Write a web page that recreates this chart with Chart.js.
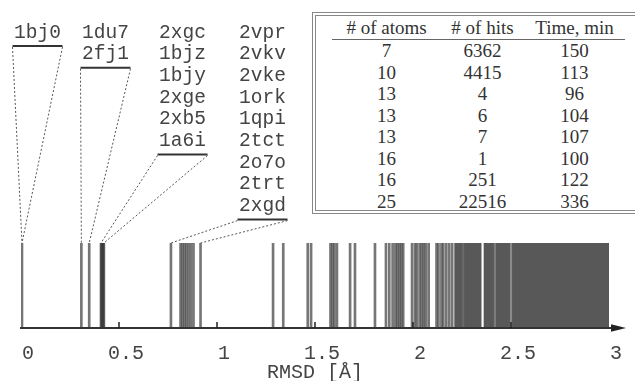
<!DOCTYPE html>
<html>
<head>
<meta charset="utf-8">
<script src="https://cdn.jsdelivr.net/npm/chart.js@4.4.6/dist/chart.umd.min.js"></script>
<style>
  body { margin: 0; background: #fff; }
  #wrap { position: relative; width: 635px; height: 381px; }
  #tbl {
    position: absolute; left: 312px; top: 12px; width: 340px; height: 194px;
    border-top: 4px double #888; border-left: 4px double #888; border-bottom: 4px double #888;
    background: #fff;
  }
  #tbl table {
    margin-left: 16px; width: 293px; border-collapse: collapse;
    font: 19px "Liberation Serif", serif; color: #333; table-layout: fixed;
  }
  #tbl td, #tbl th { text-align: center; padding: 0; font-weight: normal; height: 21.5px; line-height: 21.5px; }
  #tbl th { border-bottom: 1px solid #666; height: 23px; line-height: 23px; }
</style>
</head>
<body>
<div id="wrap">
  <canvas id="chart"></canvas>
  <div id="tbl"><table id="hitsTable">
    <colgroup><col style="width:109px"><col style="width:83px"><col style="width:101px"></colgroup>
    <thead><tr></tr></thead>
    <tbody></tbody>
  </table></div>
</div>
<script>
/* labelled structures, grouped as in the figure */
const groupLabels = [
  ["1bj0"],
  ["1du7", "2fj1"],
  ["2xgc", "1bjz", "1bjy", "2xge", "2xb5", "1a6i"],
  ["2vpr", "2vkv", "2vke", "1ork", "1qpi", "2tct", "2o7o", "2trt", "2xgd"]
];
const groupRmsd = [
  [0.005],
  [0.308, 0.348],
  [0.408, 0.411, 0.414, 0.417, 0.420, 0.423],
  [0.765, 0.814, 0.824, 0.834, 0.844, 0.855, 0.867, 0.880, 0.916]
];
/* other hits, unlabelled */
const otherRmsd = [1.286, 1.338, 1.463, 1.480, 1.579, 1.589, 1.599, 1.612, 1.679, 1.704,
  1.806, 1.862, 1.879, 1.896, 1.910, 1.920, 1.930, 1.940, 1.950, 1.995, 2.010, 2.020,
  2.034, 2.045, 2.055, 2.066, 2.080, 2.120, 2.130, 2.145, 2.155, 2.170, 2.185, 2.200];
/* dense band of hits and the few holes in it */
const denseRange = [2.21, 3.0];
const gapRmsd = [2.256, 2.355, 2.418, 2.500];
const gapShade = ["#6a6a6a", "#ffffff", "#7c7c7c", "#8a8a8a"];

/* table */
const tableHeader = ["# of atoms", "# of hits", "Time, min"];
const tableAtoms = [7, 10, 13, 13, 13, 16, 16, 25];
const tableHits = [6362, 4415, 4, 6, 7, 1, 251, 22516];
const tableTime = [150, 113, 96, 104, 107, 100, 122, 336];

const headRow = document.querySelector('#hitsTable thead tr');
tableHeader.forEach(h => {
  const th = document.createElement('th');
  th.textContent = h;
  headRow.appendChild(th);
});
const tbody = document.querySelector('#hitsTable tbody');
tableAtoms.forEach((a, i) => {
  const tr = document.createElement('tr');
  [a, tableHits[i], tableTime[i]].forEach(v => {
    const td = document.createElement('td');
    td.textContent = v;
    tr.appendChild(td);
  });
  tbody.appendChild(tr);
});

const hitRmsd = groupRmsd.flat().concat(otherRmsd);

const labelX = [37.5, 105.5, 182.5, 262.5]; // column centres of the labels
const rowStep = 21.7;

// axis line with arrow, inner ticks, labels with dotted leaders
const decorations = {
  id: 'decorations',
  afterDraw(chart) {
    const { ctx, scales: { x, y } } = chart;
    const base = y.getPixelForValue(0);
    const topY = y.getPixelForValue(1);
    ctx.save();
    // axis
    ctx.strokeStyle = '#333';
    ctx.lineWidth = 2;
    ctx.beginPath();
    ctx.moveTo(x.getPixelForValue(0) - 1, base);
    ctx.lineTo(614, base);
    ctx.stroke();
    ctx.fillStyle = '#222';
    ctx.beginPath();
    ctx.moveTo(626, base);
    ctx.lineTo(611, base - 3.8);
    ctx.lineTo(611, base + 3.8);
    ctx.closePath();
    ctx.fill();
    // inner ticks
    ctx.lineWidth = 1.5;
    ctx.strokeStyle = '#222';
    [0.5, 1, 1.5, 2, 2.5].forEach(v => {
      const px = x.getPixelForValue(v);
      ctx.beginPath();
      ctx.moveTo(px, base);
      ctx.lineTo(px, base - 6);
      ctx.stroke();
    });
    // labels
    ctx.font = '19.5px "Liberation Mono", monospace';
    ctx.textAlign = 'center';
    ctx.textBaseline = 'alphabetic';
    groupLabels.forEach((names, g) => {
      const cx = labelX[g];
      ctx.fillStyle = '#444';
      names.forEach((n, i) => ctx.fillText(n, cx, 37.5 + rowStep * i));
      const uy = 37.5 + rowStep * (names.length - 1) + 8.5;
      ctx.strokeStyle = '#333';
      ctx.lineWidth = 2;
      ctx.setLineDash([]);
      ctx.beginPath();
      ctx.moveTo(cx - 25, uy);
      ctx.lineTo(cx + 25, uy);
      ctx.stroke();
      const vals = groupRmsd[g];
      ctx.strokeStyle = '#555';
      ctx.lineWidth = 1;
      ctx.setLineDash([2, 2]);
      ctx.beginPath();
      ctx.moveTo(cx - 25, uy + 1);
      ctx.lineTo(x.getPixelForValue(Math.min(...vals)), topY);
      ctx.moveTo(cx + 25, uy + 1);
      ctx.lineTo(x.getPixelForValue(Math.max(...vals)), topY);
      ctx.stroke();
    });
    ctx.restore();
  }
};

new Chart(document.getElementById('chart'), {
  type: 'bar',
  data: {
    datasets: [
      {
        data: gapRmsd.map(v => ({ x: v, y: 1 })),
        backgroundColor: gapShade,
        barThickness: 1.5,
        stack: 'rmsd',
        order: 0
      },
      {
        data: hitRmsd.map(v => ({ x: v, y: 1 })),
        backgroundColor: 'rgba(60,60,60,0.7)',
        barThickness: 2,
        stack: 'rmsd',
        order: 1
      },
      {
        type: 'line',
        data: denseRange.map(v => ({ x: v, y: 1 })),
        borderWidth: 0,
        pointRadius: 0,
        fill: 'origin',
        backgroundColor: '#585858',
        order: 2
      }
    ]
  },
  options: {
    responsive: true,
    maintainAspectRatio: false,
    animation: false,
    layout: { padding: { left: 21, right: 26, top: 243, bottom: 0 } },
    plugins: { legend: { display: false }, tooltip: { enabled: false } },
    scales: {
      x: {
        type: 'linear',
        min: 0,
        max: 3,
        offset: false,
        grid: { display: false, drawTicks: false },
        border: { display: false },
        ticks: {
          stepSize: 0.5,
          labelOffset: 7,
          padding: 14,
          color: '#444',
          font: { family: '"Liberation Mono", monospace', size: 20 },
          callback: v => String(v)
        },
        title: {
          display: true,
          text: 'RMSD [Å]',
          color: '#444',
          padding: { top: 0, bottom: -4 },
          font: { family: '"Liberation Mono", monospace', size: 20 }
        },
        afterFit: s => { s.height = 53; }
      },
      y: { display: false, stacked: false, min: 0, max: 1 }
    }
  },
  plugins: [decorations]
});
</script>
</body>
</html>
